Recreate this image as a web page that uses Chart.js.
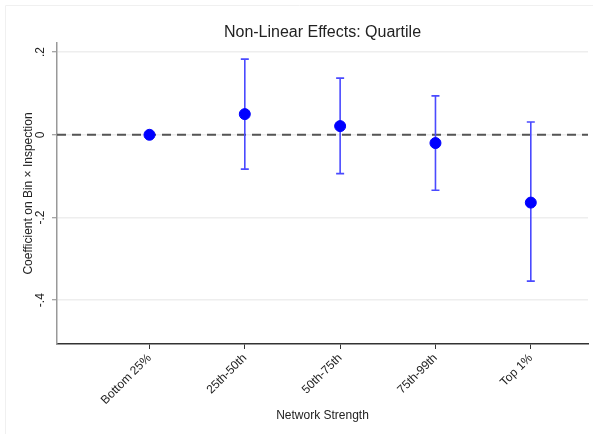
<!DOCTYPE html>
<html lang="en">
<head>
    <meta charset="UTF-8">
    <title>Non-Linear Effects: Quartile</title>
    <script src="https://cdn.jsdelivr.net/npm/chart.js"></script>
    <style>
        body {
            margin: 0;
            padding: 0;
            background: white;
        }
        .wrap {
            width: 595px;
            height: 435px;
        }
    </style>
</head>
<body>
    <div class="wrap"><canvas id="chart"></canvas></div>

    <script>
        // categories (bins of network strength)
        const categories = ['Bottom 25%', '25th-50th', '50th-75th', '75th-99th', 'Top 1%'];
        // point estimates and 95% CI (bottom bin is the reference)
        const coef = [0, 0.050, 0.021, -0.020, -0.164];
        const ciLow = [null, -0.083, -0.094, -0.134, -0.354];
        const ciHigh = [null, 0.183, 0.137, 0.094, 0.031];
        const yTicks = [0.2, 0, -0.2, -0.4];
        const yTickLabels = ['.2', '0', '-.2', '-.4'];

        const font = 'Liberation Sans, Arial, sans-serif';
        const points = coef.map((v, i) => ({ x: i + 1, y: v }));

        // zero line, error bars, rotated y tick labels, title
        const extras = {
            id: 'extras',
            beforeDatasetsDraw(chart) {
                const ctx = chart.ctx;
                const x = chart.scales.x, y = chart.scales.y;
                const area = chart.chartArea;

                ctx.save();
                const y0 = y.getPixelForValue(0);
                ctx.strokeStyle = '#555555';
                ctx.lineWidth = 2;
                ctx.setLineDash([9, 6]);
                ctx.beginPath();
                ctx.moveTo(area.left, y0);
                ctx.lineTo(area.right, y0);
                ctx.stroke();
                ctx.setLineDash([]);

                ctx.strokeStyle = '#4a4aff';
                ctx.lineWidth = 1.6;
                for (let i = 0; i < categories.length; i++) {
                    if (ciLow[i] === null) continue;
                    const px = x.getPixelForValue(i + 1);
                    const lo = y.getPixelForValue(ciLow[i]);
                    const hi = y.getPixelForValue(ciHigh[i]);
                    ctx.beginPath();
                    ctx.moveTo(px, lo);
                    ctx.lineTo(px, hi);
                    ctx.moveTo(px - 4, lo);
                    ctx.lineTo(px + 4, lo);
                    ctx.moveTo(px - 4, hi);
                    ctx.lineTo(px + 4, hi);
                    ctx.stroke();
                }
                ctx.restore();
            },
            afterDraw(chart) {
                const ctx = chart.ctx;
                const y = chart.scales.y;
                const area = chart.chartArea;
                ctx.save();

                // faint graph region edge
                ctx.strokeStyle = '#f0f0f0';
                ctx.lineWidth = 1;
                ctx.beginPath();
                ctx.moveTo(5.5, 434);
                ctx.lineTo(5.5, 5.5);
                ctx.lineTo(593, 5.5);
                ctx.stroke();

                ctx.fillStyle = '#222222';
                ctx.font = '12px ' + font;
                ctx.textAlign = 'center';
                ctx.textBaseline = 'middle';
                yTicks.forEach((v, i) => {
                    ctx.save();
                    ctx.translate(41, y.getPixelForValue(v));
                    ctx.rotate(-Math.PI / 2);
                    ctx.fillText(yTickLabels[i], 0, 0);
                    ctx.restore();
                });

                ctx.font = '16px ' + font;
                ctx.textBaseline = 'alphabetic';
                ctx.fillText('Non-Linear Effects: Quartile', (area.left + area.right) / 2, 37);
                ctx.restore();
            }
        };

        new Chart(document.getElementById('chart'), {
            type: 'scatter',
            data: {
                datasets: [{
                    data: points,
                    backgroundColor: '#0000ff',
                    borderColor: '#0000ff',
                    pointRadius: 5.5,
                    pointHoverRadius: 5.5
                }]
            },
            options: {
                responsive: true,
                maintainAspectRatio: false,
                animation: false,
                events: [],
                layout: { padding: { top: 43, right: 7, bottom: 0, left: 0 } },
                plugins: {
                    legend: { display: false },
                    title: { display: false },
                    tooltip: { enabled: false }
                },
                scales: {
                    x: {
                        type: 'linear',
                        min: 0.03,
                        max: 5.6,
                        afterFit: s => { s.height = 91; },
                        afterBuildTicks: s => { s.ticks = categories.map((c, i) => ({ value: i + 1 })); },
                        ticks: {
                            minRotation: 45,
                            maxRotation: 45,
                            padding: 2,
                            color: '#222222',
                            font: { family: font, size: 12 },
                            callback: v => categories[v - 1]
                        },
                        grid: { drawOnChartArea: false, drawTicks: true, tickLength: 5, color: '#333333', lineWidth: 1 },
                        border: { color: '#333333', width: 1.5 },
                        title: {
                            display: true,
                            text: 'Network Strength',
                            color: '#222222',
                            font: { family: font, size: 12 },
                            padding: { top: 0, bottom: 12 }
                        }
                    },
                    y: {
                        min: -0.506,
                        max: 0.222,
                        afterFit: s => { s.width = 57; },
                        afterBuildTicks: s => { s.ticks = yTicks.map(v => ({ value: v })); },
                        ticks: { display: false },
                        grid: { color: '#eeeeee', lineWidth: 1.5, tickLength: 5, tickColor: '#888888', tickWidth: 1 },
                        border: { color: '#999999', width: 1.5 },
                        title: {
                            display: true,
                            text: 'Coefficient on Bin × Inspection',
                            color: '#222222',
                            font: { family: font, size: 12 },
                            padding: { top: 21, bottom: 0 }
                        }
                    }
                }
            },
            plugins: [extras]
        });
    </script>
</body>
</html>
